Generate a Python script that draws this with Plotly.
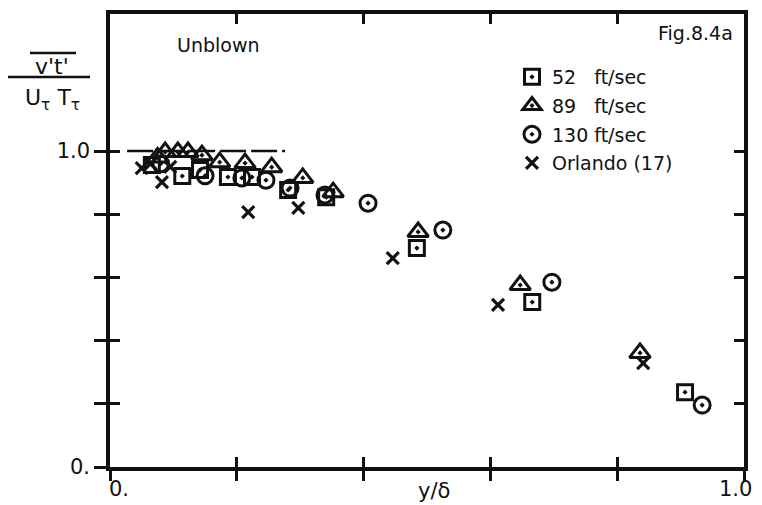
import plotly.graph_objects as go

# ---------------- data ----------------
sq_x = [0.066, 0.114, 0.142, 0.186, 0.224, 0.281, 0.341, 0.484, 0.666, 0.907]
sq_y = [0.956, 0.921, 0.940, 0.918, 0.918, 0.877, 0.854, 0.693, 0.522, 0.237]

tri_x = [0.075, 0.087, 0.107, 0.123, 0.145, 0.173, 0.213, 0.255, 0.304, 0.352, 0.486, 0.647, 0.836]
tri_y = [0.980, 0.997, 0.997, 0.997, 0.987, 0.965, 0.962, 0.949, 0.915, 0.870, 0.744, 0.576, 0.361]

cir_x = [0.080, 0.150, 0.208, 0.246, 0.284, 0.339, 0.407, 0.525, 0.697, 0.934]
cir_y = [0.960, 0.922, 0.915, 0.908, 0.883, 0.861, 0.835, 0.750, 0.585, 0.196]

orl_x = [0.050, 0.064, 0.082, 0.095, 0.218, 0.297, 0.446, 0.612, 0.841]
orl_y = [0.946, 0.960, 0.902, 0.950, 0.807, 0.820, 0.661, 0.513, 0.329]

ref_x = [0.027, 0.276]
ref_y = [1.0, 1.0]

tick_vals = [0.0, 0.2, 0.4, 0.6, 0.8, 1.0]
minor_vals = [0.2, 0.4, 0.6, 0.8]
label_vals = [0.0, 1.0]
x_labels = ["0.", "1.0"]
y_labels = ["0.", "1.0"]

series_names = ["52\u2007 ft/sec", "89\u2007 ft/sec", "130 ft/sec", "Orlando (17)"]

# ---------------- layout geometry ----------------
# page is 762x505; the html body has an 8px margin, so the figure is placed at (8, 8)
PAGE_W, PAGE_H = 762, 505
OFF = 8
W, H = PAGE_W - OFF, PAGE_H - OFF
# plot box in page pixels
X0, X1, Y0, Y1 = 110, 744, 14, 467
L, R, T, B = X0 - OFF, (OFF + W) - X1, Y0 - OFF, (OFF + H) - Y1
PW, PH = X1 - X0, Y1 - Y0
Y_MAX = 1.434


def px(x, y):
    """page pixel -> paper coordinates"""
    return (x - X0) / PW, (Y1 - y) / PH


FONT = "DejaVu Sans"
BLACK = "#111111"

fig = go.Figure()

fig.add_trace(go.Scatter(x=ref_x, y=ref_y, mode="lines", showlegend=False,
                         line=dict(color=BLACK, width=2.5, dash="26px,5px"),
                         hoverinfo="skip"))

common = dict(mode="markers", cliponaxis=False)
fig.add_trace(go.Scatter(x=sq_x, y=sq_y, name=series_names[0], legendgroup="a",
                         marker=dict(symbol="square-open-dot", size=15, color=BLACK,
                                     line=dict(width=3, color=BLACK)), **common))
fig.add_trace(go.Scatter(x=tri_x, y=tri_y, name=series_names[1], legendgroup="b",
                         marker=dict(symbol="triangle-up-open-dot", size=18, color=BLACK,
                                     line=dict(width=3, color=BLACK)), **common))
fig.add_trace(go.Scatter(x=cir_x, y=cir_y, name=series_names[2], legendgroup="c",
                         marker=dict(symbol="circle-open-dot", size=16, color=BLACK,
                                     line=dict(width=3, color=BLACK)), **common))
fig.add_trace(go.Scatter(x=orl_x, y=orl_y, name=series_names[3], legendgroup="d",
                         marker=dict(symbol="x-thin", size=12, color=BLACK,
                                     line=dict(width=3.2, color=BLACK)), **common))

# overlay axes carry the inside half of the crossing ticks (and the mirrored ticks)
fig.add_trace(go.Scatter(x=[], y=[], xaxis="x2", yaxis="y2", showlegend=False))

fig.update_layout(
    width=W, height=H,
    margin=dict(l=L, r=R, t=T, b=B, autoexpand=False),
    paper_bgcolor="white", plot_bgcolor="white",
    font=dict(family=FONT, color=BLACK),
    xaxis=dict(range=[0, 1.0], tickvals=tick_vals, showticklabels=False,
               ticks="outside", ticklen=10, tickwidth=3, tickcolor=BLACK,
               showline=True, linewidth=3.5, linecolor=BLACK, mirror=True,
               showgrid=False, zeroline=False, automargin=False),
    yaxis=dict(range=[0, Y_MAX], tickvals=label_vals, ticktext=y_labels,
               ticks="outside", ticklen=12, tickwidth=3, tickcolor=BLACK,
               minor=dict(tickvals=minor_vals, ticks="outside", ticklen=12,
                          tickwidth=3, tickcolor=BLACK),
               showline=True, linewidth=3.5, linecolor=BLACK, mirror=True,
               showgrid=False, zeroline=False, automargin=False,
               ticklabelstandoff=0,
               tickfont=dict(family=FONT, size=21, color=BLACK)),
    xaxis2=dict(range=[0, 1.0], tickvals=tick_vals, overlaying="x", anchor="y2",
                side="bottom", ticks="inside", ticklen=10, tickwidth=3,
                tickcolor=BLACK, showticklabels=False, showline=True,
                linewidth=3.5, linecolor=BLACK, mirror="ticks",
                showgrid=False, zeroline=False, automargin=False),
    yaxis2=dict(range=[0, Y_MAX], tickvals=tick_vals, overlaying="y", anchor="x2",
                side="left", ticks="inside", ticklen=10, tickwidth=3,
                tickcolor=BLACK, showticklabels=False, showline=True,
                linewidth=3.5, linecolor=BLACK, mirror="ticks",
                showgrid=False, zeroline=False, automargin=False),
    legend=dict(x=px(512, 0)[0], y=px(0, 58)[1], xanchor="left", yanchor="top",
                bgcolor="rgba(0,0,0,0)", font=dict(family=FONT, size=19, color=BLACK),
                tracegroupgap=1, itemwidth=30),
)

ann = []


def add_text(text, x, y, size, xanchor="center", yanchor="middle"):
    xp, yp = px(x, y)
    ann.append(dict(text=text, x=xp, y=yp, xref="paper", yref="paper",
                    xanchor=xanchor, yanchor=yanchor, showarrow=False,
                    font=dict(family=FONT, size=size, color=BLACK)))


# x tick labels, placed at their tick values
for v, t, anc, shift in zip(label_vals, x_labels, ["left", "right"], [-3, 10]):
    ann.append(dict(text=t, x=v, xref="x", y=px(0, 489)[1], yref="paper",
                    xanchor=anc, yanchor="middle", showarrow=False, xshift=shift,
                    font=dict(family=FONT, size=21, color=BLACK)))

add_text("Unblown", 175, 45, 19, xanchor="left")
add_text("Fig.8.4a", 735, 33, 19, xanchor="right")
add_text("y/δ", 434, 491, 21)
add_text("v't'", 52, 66, 22)
add_text("U<sub>τ</sub> T<sub>τ</sub>", 52, 100, 22)
fig.update_layout(annotations=ann)

shapes = []
for (x0, y0, x1, y1) in [(7, 77, 90, 77), (30, 53, 76, 53)]:
    a0, b0 = px(x0, y0)
    a1, b1 = px(x1, y1)
    shapes.append(dict(type="line", xref="paper", yref="paper", x0=a0, y0=b0,
                       x1=a1, y1=b1, line=dict(color=BLACK, width=2.5)))
fig.update_layout(shapes=shapes)

fig.write_html("out.html")
